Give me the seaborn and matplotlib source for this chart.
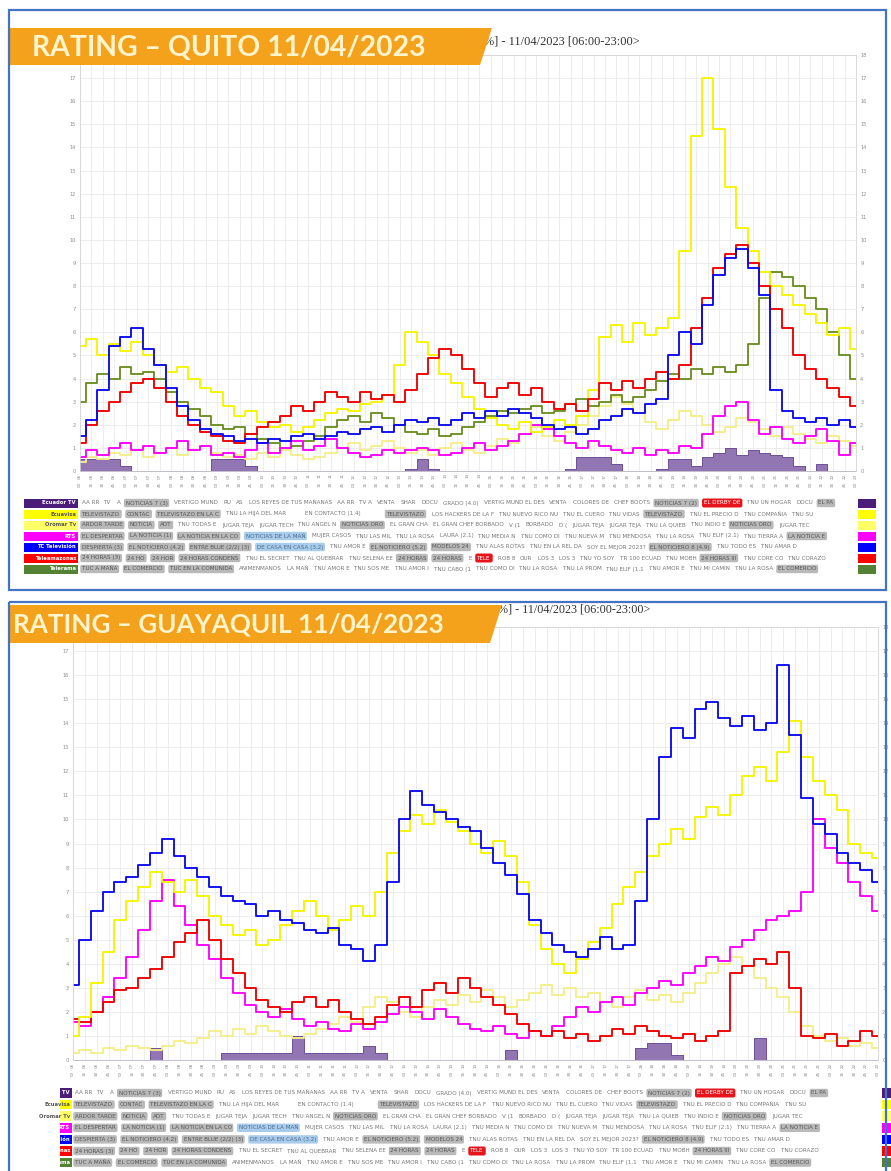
import numpy as np
import pandas as pd
import matplotlib
matplotlib.use("Agg")
import matplotlib.pyplot as plt
import seaborn as sns
from matplotlib.patches import Rectangle, Polygon

W, H, DPI = 891, 1171, 100

# ---------------- data ----------------
TIME_LABELS = [f"{6 + (15 * i) // 60:02d}:{(15 * i) % 60:02d}" for i in range(69)]
SLOTS = list(range(len(TIME_LABELS)))

CHANNELS = ["Ecuador TV", "Ecuavisa", "Oromar Tv", "RTS", "TC Televisión", "Teleamazonas", "Telerama"]

# Quito ratings (%), one value per 15-minute slot 06:00 .. 23:00
quito_ecuavisa = [5.4, 5.7, 5.0, 5.5, 5.2, 5.6, 5.0, 4.6, 4.3, 4.5,
                  4.0, 3.6, 3.4, 2.8, 2.4, 2.6, 2.1, 1.9, 2.0, 1.7,
                  1.9, 2.2, 2.5, 2.7, 2.6, 2.9, 3.0, 3.3, 4.6, 6.0,
                  5.6, 5.0, 4.2, 3.8, 3.2, 2.7, 2.3, 2.0, 1.8, 2.1,
                  1.7, 1.9, 2.2, 2.0, 2.4, 3.5, 5.8, 6.3, 5.6, 6.4,
                  5.9, 6.2, 6.6, 9.5, 14.5, 17.0, 14.8, 12.3, 10.5, 9.5,
                  8.6, 8.0, 7.6, 7.2, 6.8, 6.4, 5.9, 6.2, 5.3]
quito_tc = [1.5, 2.2, 3.5, 5.4, 5.8, 6.2, 5.3, 4.6, 3.6, 2.8,
            2.2, 1.8, 1.6, 1.5, 1.3, 1.4, 1.2, 1.4, 1.3, 1.5,
            1.6, 1.4, 1.5, 1.7, 1.6, 1.8, 1.9, 1.7, 2.0, 2.2,
            2.1, 2.3, 2.0, 2.2, 2.5, 2.3, 2.6, 2.4, 2.7, 2.5,
            2.3, 2.0, 1.8, 1.9, 1.6, 1.8, 2.2, 2.4, 2.7, 2.5,
            2.9, 3.1, 5.0, 6.0, 5.5, 7.2, 8.5, 9.2, 9.6, 8.8,
            7.6, 3.5, 2.6, 2.3, 2.1, 2.3, 2.0, 2.2, 1.9]
quito_teleamazonas = [1.2, 2.0, 2.6, 3.0, 3.4, 3.8, 4.0, 3.6, 3.0, 2.4,
                      2.0, 1.7, 1.5, 1.3, 1.2, 1.6, 1.9, 2.1, 2.4, 2.8,
                      2.6, 3.0, 3.4, 3.2, 3.0, 3.4, 3.1, 3.3, 3.0, 3.5,
                      4.2, 4.9, 5.3, 5.0, 4.4, 3.8, 3.2, 3.6, 3.8, 3.3,
                      3.6, 3.0, 2.7, 2.9, 2.6, 3.1, 3.8, 3.5, 3.9, 3.6,
                      4.0, 4.3, 4.0, 4.6, 6.2, 7.5, 8.8, 9.4, 9.8, 9.0,
                      8.0, 7.0, 6.2, 5.0, 4.4, 4.0, 3.6, 3.2, 2.8]
quito_telerama = [3.0, 3.8, 4.2, 4.0, 4.5, 4.2, 4.3, 4.0, 3.4, 3.0,
                  2.7, 2.4, 2.0, 1.8, 1.9, 1.6, 1.4, 1.2, 1.0, 1.1,
                  1.3, 1.5, 1.9, 2.2, 2.4, 2.1, 2.5, 2.3, 2.0, 1.7,
                  1.6, 1.8, 1.5, 1.6, 1.9, 2.1, 2.4, 2.6, 2.5, 2.7,
                  2.8, 2.5, 2.6, 2.9, 3.1, 2.8, 3.0, 3.3, 3.0, 3.2,
                  3.5, 3.9, 4.2, 4.0, 4.4, 4.2, 4.5, 4.3, 4.6, 5.5,
                  7.5, 8.6, 8.4, 8.0, 7.5, 7.0, 6.0, 5.0, 4.0]
quito_rts = [0.6, 0.9, 0.7, 1.0, 1.2, 0.9, 1.1, 0.8, 1.0, 1.3,
             0.9, 1.1, 0.7, 0.8, 0.6, 0.9, 1.2, 0.8, 1.0, 1.3,
             0.9, 1.1, 1.4, 1.0, 0.8, 0.6, 0.7, 0.9, 0.8, 0.9,
             1.0, 0.9, 0.7, 0.8, 1.0, 1.2, 0.9, 1.1, 1.3, 1.6,
             2.0, 1.8, 1.5, 1.2, 1.0, 1.3, 1.1, 0.9, 0.8, 1.0,
             0.7, 0.9, 0.8, 1.1, 1.0, 1.6, 2.4, 2.8, 3.0, 2.2,
             1.6, 1.9, 1.4, 1.2, 1.5, 1.8, 1.3, 0.7, 1.2]
quito_oromar = [0.4, 0.6, 0.5, 0.8, 0.7, 0.9, 0.6, 0.8, 1.0, 0.7,
                0.9, 1.1, 0.8, 0.6, 0.7, 0.5, 0.8, 0.6, 0.9, 0.7,
                0.5, 0.6, 0.8, 1.0, 1.2, 0.9, 1.1, 1.3, 1.0, 0.8,
                0.9, 0.7, 1.0, 1.2, 0.9, 0.8, 1.1, 1.4, 1.2, 1.6,
                1.9, 1.5, 1.3, 1.7, 2.0, 2.4, 2.8, 3.2, 2.9, 2.5,
                2.1, 1.8, 2.2, 2.6, 2.4, 2.0, 1.7, 1.9, 2.3, 2.1,
                1.8, 1.5, 1.9, 1.6, 1.4, 1.2, 1.5, 1.3, 1.1]
quito_ecuadortv = [0.5, 0.5, 0.5, 0.5, 0.2, 0, 0, 0, 0, 0,
                   0, 0, 0.5, 0.5, 0.5, 0.2, 0, 0, 0, 0,
                   0, 0, 0, 0, 0, 0, 0, 0, 0, 0.1,
                   0.5, 0.1, 0, 0, 0, 0, 0, 0, 0, 0,
                   0, 0, 0, 0.1, 0.6, 0.6, 0.6, 0.3, 0, 0,
                   0, 0.1, 0.5, 0.5, 0.2, 0.6, 0.8, 1.0, 0.7, 0.9,
                   0.8, 0.7, 0.6, 0.2, 0, 0.3, 0, 0, 0]

# Guayaquil ratings (%)
gye_tc = [3.1, 5.0, 6.2, 7.0, 7.4, 7.6, 8.1, 8.6, 9.2, 8.5,
          8.0, 7.6, 7.2, 6.8, 6.6, 6.5, 6.0, 6.2, 5.8, 5.7,
          5.4, 5.3, 5.5, 4.8, 4.6, 4.1, 4.8, 7.4, 10.0, 11.2,
          10.6, 10.3, 10.0, 9.7, 9.5, 8.8, 8.2, 7.7, 6.9, 5.8,
          5.3, 4.8, 4.5, 4.3, 4.6, 5.1, 4.6, 4.8, 6.6, 10.0,
          12.6, 13.8, 13.4, 14.6, 14.9, 14.2, 13.9, 14.3, 13.7, 14.0,
          16.4, 13.5, 10.9, 9.8, 9.4, 8.6, 8.2, 7.9, 7.4]
gye_ecuavisa = [1.0, 1.8, 3.2, 4.5, 5.8, 6.6, 7.2, 7.8, 7.4, 7.0,
                7.5, 6.8, 6.0, 5.6, 5.2, 5.4, 4.8, 5.0, 5.6, 6.2,
                6.6, 6.0, 5.4, 5.8, 6.4, 6.0, 7.0, 8.6, 9.5, 10.2,
                9.8, 10.4, 9.9, 9.5, 9.0, 8.6, 9.1, 8.5, 7.4, 5.6,
                4.6, 4.0, 3.6, 4.2, 4.9, 5.5, 6.5, 7.2, 7.8, 8.5,
                9.0, 9.6, 9.2, 10.1, 10.5, 10.2, 11.0, 11.8, 12.2, 11.6,
                12.8, 14.1, 12.6, 11.6, 11.0, 10.4, 9.0, 8.6, 8.4]
gye_rts = [1.6, 1.4, 2.0, 2.6, 3.4, 4.3, 5.4, 6.6, 7.5, 6.4,
           5.6, 4.8, 4.2, 3.4, 2.8, 2.3, 2.0, 1.8, 2.1, 1.7,
           1.4, 1.6, 1.3, 1.2, 1.5, 1.3, 1.6, 1.9, 2.2, 2.0,
           1.7, 2.1, 1.8, 1.5, 1.3, 1.2, 1.4, 1.1, 0.9, 1.2,
           1.0, 1.4, 1.8, 2.2, 2.0, 2.4, 2.6, 2.3, 2.8, 3.0,
           3.3, 3.1, 3.6, 3.9, 4.3, 4.1, 4.7, 5.0, 5.4, 5.8,
           6.0, 6.2, 7.0, 10.0, 8.8, 8.2, 7.4, 6.8, 6.2]
gye_teleamazonas = [1.7, 1.6, 2.0, 2.4, 2.9, 3.0, 3.4, 3.8, 4.3, 4.9,
                    5.3, 5.8, 5.0, 4.2, 3.6, 3.0, 2.5, 2.2, 2.0, 2.4,
                    2.6, 2.2, 2.5, 2.0, 1.7, 1.5, 1.8, 2.3, 2.6, 2.2,
                    2.9, 3.2, 2.8, 3.4, 3.0, 2.6, 2.3, 1.9, 1.5, 1.2,
                    1.0, 1.2, 0.9, 1.1, 0.8, 1.0, 1.3, 1.1, 1.4, 1.2,
                    1.0, 0.9, 1.1, 0.8, 1.0, 1.2, 3.6, 3.9, 4.2, 4.0,
                    4.5, 3.0, 1.0, 0.9, 1.1, 0.6, 0.8, 1.2, 1.0]
gye_oromar = [0.3, 0.4, 0.3, 0.5, 0.4, 0.6, 0.5, 0.4, 0.6, 0.8,
              0.7, 0.9, 1.2, 1.0, 1.3, 1.1, 1.4, 1.2, 1.0, 0.9,
              1.1, 1.3, 1.5, 1.8, 1.6, 2.2, 2.6, 2.4, 2.0, 1.8,
              2.2, 2.5, 2.3, 2.7, 2.4, 2.9, 2.6, 2.2, 2.5, 2.8,
              3.1, 2.7, 3.0, 2.6, 2.8, 2.4, 2.2, 2.6, 2.9, 2.5,
              2.7, 2.4, 2.8, 3.2, 3.6, 4.0, 4.3, 3.9, 3.4, 3.0,
              2.6, 2.0, 1.4, 1.0, 0.8, 0.9, 0.6, 0.7, 0.5]
gye_ecuadortv = [0, 0, 0, 0, 0, 0, 0, 0.5, 0, 0,
                 0, 0, 0, 0.3, 0.3, 0.3, 0.3, 0.3, 0.3, 1.0,
                 0.3, 0.3, 0.3, 0.3, 0.3, 0.6, 0.3, 0, 0, 0,
                 0, 0, 0, 0, 0, 0, 0, 0.4, 0, 0,
                 0, 0, 0, 0, 0, 0, 0, 0, 0.5, 0.7,
                 0.7, 0.2, 0, 0, 0, 0, 0, 0, 0.9, 0,
                 0, 0, 0, 0, 0, 0, 0, 0, 0]

PROGRAMS = [
    ["AA RR", "TV", "A", "#NOTICIAS 7 (3)", "VERTIGO MUND", "RU", "AS", "LOS REYES DE TUS MAÑANAS", "AA RR", "TV A",
     "VENTA", "SHAR", "DOCU", "GRADO (4.0)", "VERTIG MUND EL DES", "VENTA", "COLORES DE", "CHEF BOOTS",
     "#NOTICIAS 7 (2)", "!EL DERBY DE", "TNU UN HOGAR", "DOCU", "#EL PA"],
    ["#TELEVISTAZO", "#CONTAC", "#TELEVISTAZO EN LA C", "TNU LA HIJA DEL MAR", "        EN CONTACTO (1.4)", "         ",
     "#TELEVISTAZO", "LOS HACKERS DE LA F", "TNU NUEVO RICO NU", "TNU EL CUERO", "TNU VIDAS", "#TELEVISTAZO",
     "TNU EL PRECIO D", "TNU COMPAÑIA", "TNU SU"],
    ["#ARDOR TARDE", "#NOTICIA", "#ADT", "TNU TODAS E", "JUGAR TEJA", "JUGAR TECH", "TNU ANGEL N", "#NOTICIAS ORO",
     "EL GRAN CHA", "EL GRAN CHEF BORBADO", "V (1", "BORBADO", "D (", "JUGAR TEJA", "JUGAR TEJA", "TNU LA QUIEB",
     "TNU INDIO E", "#NOTICIAS ORO", "JUGAR TEC"],
    ["#EL DESPERTAR", "#LA NOTICIA (1)", "#LA NOTICIA EN LA CO", "@NOTICIAS DE LA MAÑ", "MUJER CASOS", "TNU LAS MIL",
     "TNU LA ROSA", "LAURA (2.1)", "TNU MEDIA N", "TNU COMO DI", "TNU NUEVA M", "TNU MENDOSA", "TNU LA ROSA",
     "TNU ELIF (2.1)", "TNU TIERRA A", "#LA NOTICIA E"],
    ["#DESPIERTA (3)", "#EL NOTICIERO (4.2)", "#ENTRE BLUE (2/2) (3)", "@DE CASA EN CASA (3.2)", "TNU AMOR E",
     "#EL NOTICIERO (5.2)", "#MODELOS 24", "TNU ALAS ROTAS", "TNU EN LA REL DA", "SOY EL MEJOR 2023?",
     "#EL NOTICIERO 8 (4.9)", "TNU TODO ES", "TNU AMAR D"],
    ["#24 HORAS (3)", "#24 HO", "#24 HOR", "#24 HORAS CONDENS", "TNU EL SECRET", "TNU AL QUEBRAR", "TNU SELENA EE",
     "#24 HORAS", "#24 HORAS", "E", "!TELE", "ROB 8", "OUR", "LOS 3", "LOS 3", "TNU YO SOY", "TR 100 ECUAD",
     "TNU MOBH", "#24 HORAS III", "TNU CORE CO", "TNU CORAZO"],
    ["#TUC A MAÑA", "#EL COMERCIO", "#TUC EN LA COMUNIDA", "ANIMENMANOS", "LA MAÑ", "TNU AMOR E", "TNU SOS ME",
     "TNU AMOR I", "TNU CABO (1", "TNU COMO DI", "TNU LA ROSA", "TNU LA PROM", "TNU ELIF (1.1", "TNU AMOR E",
     "TNU MI CAMIN", "TNU LA ROSA", "#EL COMERCIO"],
]

for arr in [quito_ecuavisa, quito_tc, quito_teleamazonas, quito_telerama, quito_rts, quito_oromar, quito_ecuadortv,
            gye_tc, gye_ecuavisa, gye_rts, gye_teleamazonas, gye_oromar, gye_ecuadortv]:
    assert len(arr) == len(SLOTS), len(arr)

# ---------------- style ----------------
LINE_COLORS = {"Oromar Tv": "#F4EE8A", "Telerama": "#6B8E23", "RTS": "#FF00FF", "Ecuavisa": "#F5F500",
               "Teleamazonas": "#F00000", "TC Televisión": "#0A0AF0"}
ROW_COLORS = ["#4B1C7A", "#FFFF00", "#FFFF66", "#FF00FF", "#0000FF", "#FF0000", "#548235"]
ROW_TEXT = ["white", "#555555", "#555555", "white", "white", "white", "white"]
PURPLE_FILL, PURPLE_EDGE = "#9276B4", "#6E4F98"
ORANGE, BORDER = "#F4A11C", "#4472C4"

sns.set_theme(style="whitegrid")
plt.rcParams["font.family"] = ["DejaVu Sans"]

fig = plt.figure(figsize=(W / DPI, H / DPI), dpi=DPI)
fig.patch.set_facecolor("white")


def px_axes(l, t, r, b):
    return fig.add_axes([l / W, 1 - b / H, (r - l) / W, (b - t) / H])


def draw_chart(ax, lines, area, ax_h):
    frames = [pd.DataFrame({"slot": SLOTS, "rating": vals, "channel": name}) for name, vals in lines.items()]
    df = pd.concat(frames, ignore_index=True)
    ax.fill_between(SLOTS, area, step="mid", facecolor=PURPLE_FILL, edgecolor=PURPLE_EDGE, lw=0.7, zorder=1.5)
    sns.lineplot(data=df, x="slot", y="rating", hue="channel", hue_order=list(lines),
                 palette=LINE_COLORS, estimator=None, drawstyle="steps-mid", linewidth=1.35,
                 legend=False, ax=ax, zorder=2)
    ax.set_xlim(0, SLOTS[-1])
    ax.set_ylim(0, 18)
    ax.set_xticks(SLOTS)
    ax.set_xticklabels([])
    ax.set_yticks(range(19))
    ax.set_xlabel("")
    ax.set_ylabel("")
    ax.set_facecolor("white")
    ax.grid(True, color="#e6e6e6", lw=0.5)
    ax.tick_params(axis="x", length=0, pad=0)
    ax.tick_params(axis="y", length=0, pad=3, labelsize=3.6, labelcolor="#8a8a8a",
                   labelright=True, right=False)
    # the top left label (18) sits under the title banner in the reference
    ax.yaxis.get_major_ticks()[-1].label1.set_visible(False)
    for s in ax.spines.values():
        s.set_color("#d4d4d4")
        s.set_linewidth(0.6)
    for slot, lab in zip(SLOTS, TIME_LABELS):
        hh, mm = lab.split(":")
        ax.text(slot, -2.5 / ax_h, hh, transform=ax.get_xaxis_transform(), rotation=90,
                fontsize=3.0, color="#8a8a8a", ha="center", va="top")
        ax.text(slot, -10.5 / ax_h, mm, transform=ax.get_xaxis_transform(), rotation=90,
                fontsize=3.0, color="#8a8a8a", ha="center", va="top")


axq = px_axes(80, 55, 856, 471)
draw_chart(axq, {"Oromar Tv": quito_oromar, "Telerama": quito_telerama, "RTS": quito_rts,
                 "Ecuavisa": quito_ecuavisa, "Teleamazonas": quito_teleamazonas, "TC Televisión": quito_tc},
           quito_ecuadortv, 416)

axg = px_axes(73, 627, 878, 1060)
draw_chart(axg, {"Oromar Tv": gye_oromar, "RTS": gye_rts, "Teleamazonas": gye_teleamazonas,
                 "Ecuavisa": gye_ecuavisa, "TC Televisión": gye_tc},
           gye_ecuadortv, 433)

# ---------------- overlay (panels, banners, program grids) ----------------
ov = fig.add_axes([0, 0, 1, 1], zorder=10)
ov.set_xlim(0, W)
ov.set_ylim(H, 0)
ov.axis("off")
ov.patch.set_alpha(0)
renderer = fig.canvas.get_renderer()


def fit_text(x, y, s, target_w, **kw):
    t = ov.text(x, y, s, **kw)
    w = t.get_window_extent(renderer).width
    t.set_fontsize(t.get_fontsize() * target_w / w)
    return t


def panel(top, bottom, banner_top, banner_bot, banner_r, title, title_x, title_w, head_x, head_y, head_w):
    ov.add_patch(Rectangle((9, top), 877, bottom - top, fill=False, ec=BORDER, lw=1.6, zorder=9))
    fit_text(head_x, head_y, "%] - 11/04/2023 [06:00-23:00>", head_w, ha="left", va="center",
             fontfamily="Liberation Serif", fontsize=8, color="#333333", zorder=1)
    ov.add_patch(Polygon([(10, banner_top), (banner_r, banner_top), (banner_r - 12, banner_bot),
                          (10, banner_bot)], closed=True, fc=ORANGE, ec="none", zorder=2))
    fit_text(title_x, (banner_top + banner_bot) / 2 + 1, title, title_w, ha="left", va="center",
             fontfamily="Lato", fontweight="bold", fontsize=21, color="#FFF4CC", zorder=3)


def program_grid(row_ys, box_l, box_r, tok_l, tok_r, sw_l, sw_r, row_h):
    for k, y in enumerate(row_ys):
        box = Rectangle((box_l, y - row_h / 2), box_r - box_l, row_h, fc=ROW_COLORS[k], ec="none", zorder=4)
        ov.add_patch(box)
        t = ov.text(box_r - 2, y, CHANNELS[k], ha="right", va="center", fontsize=3.8, fontweight="bold",
                    color=ROW_TEXT[k], zorder=5)
        t.set_clip_path(box)
        x = tok_l
        for tok in PROGRAMS[k]:
            style = tok[0] if tok[0] in "#@!" else None
            s = tok[1:] if style else tok
            kw = dict(fontsize=4.1, va="center", ha="left", color="#777777", zorder=3)
            if style == "#":
                kw.update(color="#555555", bbox=dict(boxstyle="round,pad=0.3", fc="#b9b9b9", ec="none"))
            elif style == "@":
                kw.update(color="#4d6b8a", bbox=dict(boxstyle="round,pad=0.3", fc="#a9cbec", ec="none"))
            elif style == "!":
                kw.update(color="white", bbox=dict(boxstyle="round,pad=0.35", fc="#E8141B", ec="none"))
            t = ov.text(x, y, s, **kw)
            w = t.get_window_extent(renderer).width
            x += w + (7 if style else 5)
            if x > tok_r + 40:
                break
        ov.add_patch(Rectangle((tok_r, y - row_h / 2 - 1), W - tok_r, row_h + 2, fc="white", ec="none", zorder=6))
        ov.add_patch(Rectangle((sw_l, y - row_h / 2), sw_r - sw_l, row_h, fc=ROW_COLORS[k], ec="none", zorder=7))


panel(10, 590, 28, 65, 492, "RATING – QUITO 11/04/2023", 32, 393, 484, 42, 156)
panel(602, 1190, 605, 643, 502, "RATING – GUAYAQUIL 11/04/2023", 13, 430, 498, 609, 152)

program_grid([503 + 11 * k for k in range(7)], 24, 78, 82, 856, 858, 876, 9)
program_grid([1093 + 11.6 * k for k in range(7)], 60, 72, 75, 880, 882, 891, 9.5)

fig.savefig("out.png", dpi=DPI, facecolor="white")
